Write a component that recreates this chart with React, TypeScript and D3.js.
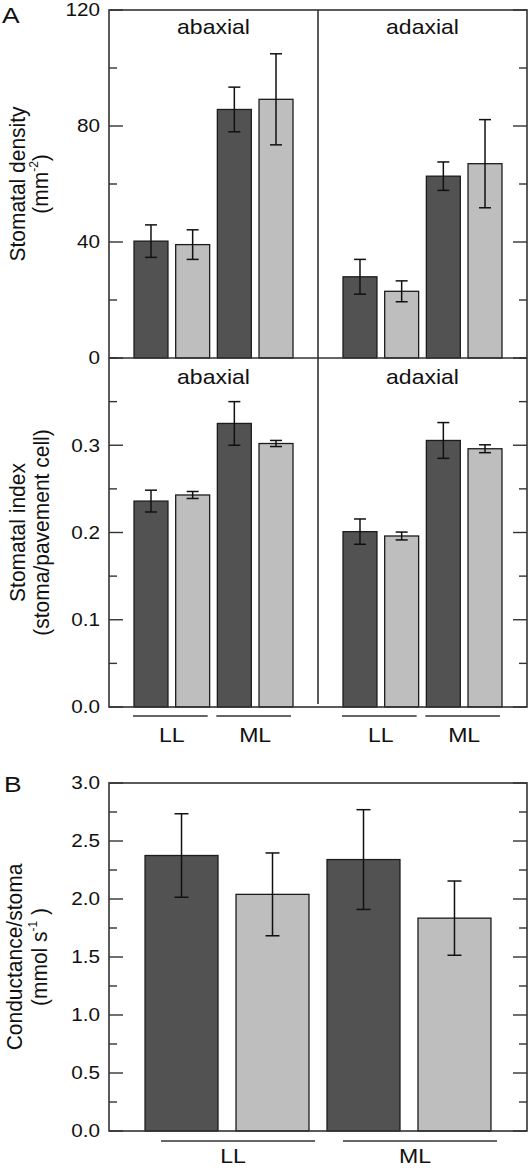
import React from "react";
import * as d3 from "d3";

// ---------- data ----------
const surfaces = ["abaxial", "adaxial"];
const groups = ["LL", "ML"];
const barKeys = ["LL-1", "LL-2", "ML-1", "ML-2"]; // dark / light within each light group
const barShade = ["dark", "light", "dark", "light"];

const densityAbaxial = [40.3, 39.1, 85.7, 89.2];
const densityAbaxialErr = [5.6, 5.1, 7.7, 15.7];
const densityAdaxial = [28.0, 23.0, 62.7, 67.0];
const densityAdaxialErr = [6.0, 3.6, 4.9, 15.2];

const indexAbaxial = [0.236, 0.243, 0.325, 0.302];
const indexAbaxialErr = [0.0125, 0.004, 0.025, 0.0035];
const indexAdaxial = [0.201, 0.196, 0.3055, 0.296];
const indexAdaxialErr = [0.0145, 0.0045, 0.0205, 0.0045];

const conductance = [2.375, 2.04, 2.34, 1.835];
const conductanceErr = [0.36, 0.357, 0.43, 0.32];

const densityTicks = [0, 40, 80, 120];
const densityMinorStep = 20;
const indexTicks = [0.0, 0.1, 0.2, 0.3];
const indexMinorStep = 0.05;
const condTicks = [0.0, 0.5, 1.0, 1.5, 2.0, 2.5, 3.0];
const condMinorStep = 0.25;

// ---------- layout ----------
const W = 531;
const H = 1169;
const xL = 109;
const xR = 527;
const xMid = 318;
const aTop = 10;
const aMid = 358;
const aBot = 707;
const bTop = 783;
const bBot = 1131;

const FONT = "'Liberation Sans', Arial, Helvetica, sans-serif";
const DARK = "#525252";
const LIGHT = "#bebebe";
const AXIS = "#333";
const SX = 1.15;

const yDensity = d3.scaleLinear().domain([0, 120]).range([aMid, aTop]);
const yIndex = d3.scaleLinear().domain([0, 0.4]).range([aBot, aMid]);
const yCond = d3.scaleLinear().domain([0, 3]).range([bBot, bTop]);

const xSub = (r0: number, r1: number) =>
  d3.scaleBand<string>().domain(barKeys).range([r0, r1]).paddingInner(0.185).paddingOuter(0.6);
const xAbaxial = xSub(xL, xMid);
const xAdaxial = xSub(xMid, xR);
const xB = d3.scaleBand<string>().domain(barKeys).range([xL, xR]).paddingInner(0.198).paddingOuter(0.396);

function HText({ x, y, size, anchor = "start", dy, children, sx = SX }: any) {
  return (
    <text
      transform={`translate(${x},${y}) scale(${sx},1)`}
      fontSize={size}
      textAnchor={anchor}
      dy={dy}
      fontFamily={FONT}
      fill="#111"
    >
      {children}
    </text>
  );
}

function VText({ x, y, size, children }: any) {
  return (
    <text
      transform={`translate(${x},${y}) rotate(-90) scale(1,1.08)`}
      fontSize={size}
      textAnchor="middle"
      fontFamily={FONT}
      fill="#111"
    >
      {children}
    </text>
  );
}

function Bars({ x, y, values, errs, cap }: any) {
  const bw = x.bandwidth();
  return (
    <g>
      {barKeys.map((k: string, i: number) => (
        <rect
          key={"r" + k}
          x={x(k)}
          y={y(values[i])}
          width={bw}
          height={y(0) - y(values[i])}
          fill={barShade[i] === "dark" ? DARK : LIGHT}
          stroke="#1c1c1c"
          strokeWidth={1.3}
        />
      ))}
      {barKeys.map((k: string, i: number) => {
        const cx = (x(k) as number) + bw / 2;
        const y1 = y(values[i] + errs[i]);
        const y2 = y(values[i] - errs[i]);
        return (
          <g key={"e" + k} stroke="#111" strokeWidth={1.5}>
            <line x1={cx} x2={cx} y1={y1} y2={y2} />
            <line x1={cx - cap / 2} x2={cx + cap / 2} y1={y1} y2={y1} />
            <line x1={cx - cap / 2} x2={cx + cap / 2} y1={y2} y2={y2} />
          </g>
        );
      })}
    </g>
  );
}

function Ticks({ y, labels, minorStep, fmt }: any) {
  const [d0, d1] = y.domain();
  const n = Math.round((d1 - d0) / minorStep);
  const all = d3.range(0, n + 1).map((i) => d0 + i * minorStep);
  const isMajor = (v: number) => labels.some((l: number) => Math.abs(l - v) < 1e-9);
  return (
    <g>
      {all.map((v: number, i: number) => {
        const len = isMajor(v) ? 14 : 8;
        const yy = y(v);
        return (
          <g key={i} stroke={AXIS} strokeWidth={1.4}>
            <line x1={xL} x2={xL + len} y1={yy} y2={yy} />
            <line x1={xR - len} x2={xR} y1={yy} y2={yy} />
          </g>
        );
      })}
      {labels.map((v: number, i: number) => (
        <HText key={"l" + i} x={100} y={y(v)} size={18} anchor="end" dy="0.36em">
          {fmt(v)}
        </HText>
      ))}
    </g>
  );
}

function GroupLines({ x, y, labelY, shift = 0, labelShift = 0, half }: any) {
  const bw = x.bandwidth();
  return (
    <g>
      {groups.map((g: string, gi: number) => {
        const a = x(barKeys[gi * 2]) as number;
        const b = (x(barKeys[gi * 2 + 1]) as number) + bw;
        const c = (a + b) / 2;
        const x1 = half ? c + shift - half : a - 1;
        const x2 = half ? c + shift + half : b - 2;
        return (
          <g key={g}>
            <line x1={x1} x2={x2} y1={y} y2={y} stroke={AXIS} strokeWidth={1.5} />
            <HText x={c + labelShift} y={labelY} size={21} anchor="middle" sx={1.1}>
              {g}
            </HText>
          </g>
        );
      })}
    </g>
  );
}

export default function App() {
  const fmtInt = d3.format("d");
  const fmt1 = d3.format(".1f");
  return (
    <svg
      width={W}
      height={H}
      viewBox={`0 0 ${W} ${H}`}
      style={{ position: "absolute", left: 0, top: 0, background: "#fff" }}
    >
      <rect x={0} y={0} width={W} height={H} fill="#fff" />

      {/* Panel A bars */}
      <Bars x={xAbaxial} y={yDensity} values={densityAbaxial} errs={densityAbaxialErr} cap={12} />
      <Bars x={xAdaxial} y={yDensity} values={densityAdaxial} errs={densityAdaxialErr} cap={12} />
      <Bars x={xAbaxial} y={yIndex} values={indexAbaxial} errs={indexAbaxialErr} cap={12} />
      <Bars x={xAdaxial} y={yIndex} values={indexAdaxial} errs={indexAdaxialErr} cap={12} />

      {/* Panel A frame */}
      <g stroke={AXIS} strokeWidth={1.6} fill="none">
        <rect x={xL} y={aTop} width={xR - xL} height={aBot - aTop} />
        <line x1={xL} x2={xR} y1={aMid} y2={aMid} />
        <line x1={xMid} x2={xMid} y1={aTop} y2={aBot - 3} />
      </g>
      <Ticks y={yDensity} labels={densityTicks} minorStep={densityMinorStep} fmt={fmtInt} />
      <Ticks y={yIndex} labels={indexTicks} minorStep={indexMinorStep} fmt={fmt1} />

      {surfaces.map((s, i) => {
        const cx = i === 0 ? (xL + xMid) / 2 : (xMid + xR) / 2;
        return (
          <g key={s}>
            <HText x={cx} y={aTop + 24} size={20} anchor="middle">
              {s}
            </HText>
            <HText x={cx} y={aMid + 26} size={20} anchor="middle">
              {s}
            </HText>
          </g>
        );
      })}

      <GroupLines x={xAbaxial} y={716} labelY={742} />
      <GroupLines x={xAdaxial} y={716} labelY={742} />

      {/* Panel B */}
      <Bars x={xB} y={yCond} values={conductance} errs={conductanceErr} cap={14} />
      <g stroke={AXIS} strokeWidth={1.6} fill="none">
        <rect x={xL} y={bTop} width={xR - xL} height={bBot - bTop} />
      </g>
      <Ticks y={yCond} labels={condTicks} minorStep={condMinorStep} fmt={fmt1} />
      <GroupLines x={xB} y={1141} labelY={1163} shift={11} labelShift={6} half={77} />

      {/* panel letters */}
      <HText x={2} y={23} size={22} sx={1.2}>A</HText>
      <HText x={4} y={792} size={22} sx={1.2}>B</HText>

      {/* y-axis titles */}
      <VText x={25} y={(aTop + aMid) / 2} size={21}>Stomatal density</VText>
      <VText x={48} y={(aTop + aMid) / 2} size={21}>
        <tspan>(mm</tspan>
        <tspan fontSize={12} dy={-9}>-2</tspan>
        <tspan dy={9}>)</tspan>
      </VText>
      <VText x={25} y={(aMid + aBot) / 2} size={21}>Stomatal index</VText>
      <VText x={49} y={(aMid + aBot) / 2} size={21}>(stoma/pavement cell)</VText>
      <VText x={22} y={(bTop + bBot) / 2} size={21}>Conductance/stoma</VText>
      <VText x={47} y={(bTop + bBot) / 2} size={21}>
        <tspan>(mmol s</tspan>
        <tspan fontSize={12} dy={-9}>-1</tspan>
        <tspan dy={9}> )</tspan>
      </VText>
    </svg>
  );
}
